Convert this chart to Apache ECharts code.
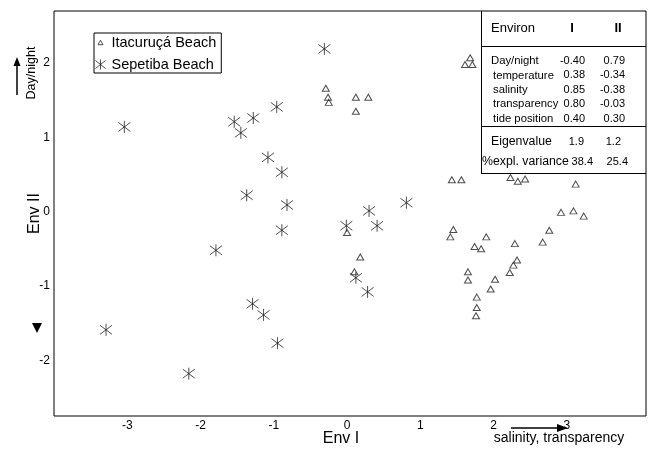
<!DOCTYPE html>
<html><head><meta charset="utf-8">
<script src="https://cdn.jsdelivr.net/npm/echarts@6/dist/echarts.min.js"></script>
<style>html,body{margin:0;padding:0;background:#fff}#c{width:651px;height:455px}</style>
</head><body><div id="c"></div>
<script>
// ---- data ----
const xTickValues = [-3, -2, -1, 0, 1, 2, 3];
const yTickValues = [-2, -1, 0, 1, 2];

const itaX = [-0.29, -0.26, -0.25, 0.12, 0.29, 0.12, 1.68, 1.61, 1.71,
  0.00, 0.18, 0.10,
  1.43, 1.56, 2.23, 2.33, 2.43, 3.12, 2.92, 3.09, 3.23, 2.76, 2.67,
  1.45, 1.41, 1.90, 1.74, 1.83, 2.29, 2.32, 2.27, 2.22, 1.65, 1.65, 2.02, 1.96,
  1.77, 1.77, 1.76];
const itaY = [1.66, 1.54, 1.47, 1.54, 1.54, 1.35, 2.07, 1.98, 1.98,
  -0.28, -0.61, -0.81,
  0.43, 0.43, 0.46, 0.41, 0.44, 0.37, -0.01, 0.01, -0.06, -0.25, -0.41,
  -0.24, -0.34, -0.34, -0.47, -0.50, -0.43, -0.65, -0.72, -0.82, -0.81, -0.92, -0.91, -1.04,
  -1.15, -1.29, -1.40];

const sepX = [-0.31, -3.04, -1.54, -1.28, -1.45, -0.96, -1.08, -0.89, -1.37, -0.82,
  -0.89, -1.79, -0.01, 0.30, 0.41, 0.81, 0.12, 0.28, -1.29, -1.14, -0.95, -3.29, -2.16];
const sepY = [2.19, 1.14, 1.21, 1.26, 1.06, 1.41, 0.73, 0.53, 0.22, 0.09,
  -0.25, -0.52, -0.19, 0.01, -0.19, 0.12, -0.89, -1.08, -1.24, -1.39, -1.77, -1.59, -2.18];

const seriesNames = ['Itacuruçá Beach', 'Sepetiba Beach'];

const tableHeader = ['Environ', 'I', 'II'];
const envNames = ['Day/night', 'temperature', 'salinity', 'transparency', 'tide position'];
const loadI = ['-0.40', '0.38', '0.85', '0.80', '0.40'];
const loadII = ['0.79', '-0.34', '-0.38', '-0.03', '0.30'];
const summaryNames = ['Eigenvalue', '%expl. variance'];
const summaryI = ['1.9', '38.4'];
const summaryII = ['1.2', '25.4'];

// ---- chart ----
const FONT = '"Liberation Sans", Arial, sans-serif';
const ink = '#222';
const asterisk = 'path://M6,0L6,12M0,1.5L12,10.5M0,10.5L12,1.5';
const legendTri = 'path://M0,0M12,14M3.5,9.2L6,4.8L8.5,9.2Z';
const legendAst = 'path://M0,0M12,14M6,2L6,12M1,3L11,11M1,11L11,3';

const ita = itaX.map((x, i) => [x, itaY[i]]);
const sep = sepX.map((x, i) => [x, sepY[i]]);

const graphics = [];
function txt(t, x, y, size, align, extra, weight) {
  graphics.push(Object.assign({
    type: 'text', x: x, y: y, silent: true,
    style: { text: t, fill: '#000', font: (weight ? weight + ' ' : '') + size + 'px ' + FONT, textAlign: align || 'left', textVerticalAlign: 'middle' }
  }, extra || {}));
}
function ln(x1, y1, x2, y2, w) {
  graphics.push({ type: 'line', silent: true, shape: { x1, y1, x2, y2 }, style: { stroke: '#000', lineWidth: w || 1 } });
}
function poly(pts) {
  graphics.push({ type: 'polygon', silent: true, shape: { points: pts }, style: { fill: '#000' } });
}

// table
const tL = 481, tR = 646;
ln(tL + 0.5, 11, tL + 0.5, 173);
ln(tL, 173.5, tR, 173.5);
ln(tL, 46.5, tR, 46.5);
ln(tL, 126.5, tR, 126.5);
txt(tableHeader[0], 491, 28, 13, 'left');
txt(tableHeader[1], 572, 28, 13, 'center', null, 'bold');
txt(tableHeader[2], 618, 28, 13, 'center', null, 'bold');
envNames.forEach((n, i) => {
  const y = 61 + i * 14.4;
  txt(n, i === 0 ? 491 : 493, y, 11.3, 'left');
  txt(loadI[i], 585, y, 11, 'right');
  txt(loadII[i], 625, y, 11, 'right');
});
summaryNames.forEach((n, i) => {
  const y = 142 + i * 20;
  txt(n, i === 0 ? 491 : 482, y, 12.3, 'left');
  txt(summaryI[i], i === 0 ? 584 : 593, y, 11, 'right');
  txt(summaryII[i], i === 0 ? 621 : 628, y, 11, 'right');
});

// axis decorations
txt('Day/night', 32, 73, 12.5, 'center', { rotation: Math.PI / 2 });
ln(17, 95, 17, 64, 1.5);
poly([[17, 57], [13.5, 66], [20.5, 66]]);
poly([[32, 323], [42, 323], [37, 333]]);
txt('salinity, transparency', 559, 438, 14, 'center');
ln(511, 428, 559, 428, 1.5);
poly([[568, 428], [557, 424], [557, 432]]);

const chart = echarts.init(document.getElementById('c'), null, { renderer: 'canvas' });
chart.setOption({
  animation: false,
  backgroundColor: '#fff',
  textStyle: { fontFamily: FONT },
  grid: { left: 54, right: 5, top: 11, bottom: 39, show: true, borderColor: '#000', borderWidth: 1 },
  xAxis: {
    type: 'value', min: -4, max: 4.08, interval: 1,
    axisLine: { show: false }, axisTick: { show: false }, splitLine: { show: false },
    axisLabel: { color: '#000', fontSize: 12, margin: 4,
      formatter: v => xTickValues.includes(Math.round(v)) && Math.abs(v - Math.round(v)) < 1e-6 ? String(Math.round(v)) : '' },
    name: 'Env I', nameLocation: 'middle', nameGap: 15, nameMoveOverlap: false,
    nameTextStyle: { fontSize: 16, color: '#000', padding: [0, 18, 0, 0] }
  },
  yAxis: {
    type: 'value', min: -2.75, max: 2.7, interval: 0.25,
    axisLine: { show: false }, axisTick: { show: false }, splitLine: { show: false },
    axisLabel: { color: '#000', fontSize: 12, margin: 4,
      formatter: v => yTickValues.includes(Math.round(v)) && Math.abs(v - Math.round(v)) < 1e-6 ? String(Math.round(v)) : '' },
    name: 'Env II', nameLocation: 'middle', nameGap: 11, nameMoveOverlap: false,
    nameTextStyle: { fontSize: 16, color: '#000' }
  },
  legend: {
    orient: 'vertical', left: 94, top: 33, selectedMode: false,
    padding: [2, 5, 1, 0], itemGap: 7, itemWidth: 12, itemHeight: 14,
    borderColor: '#000', borderWidth: 1, backgroundColor: '#fff',
    textStyle: { fontSize: 14.5, color: '#000' },
    data: [
      { name: seriesNames[0], icon: legendTri, itemStyle: { color: 'rgba(0,0,0,0)', borderColor: ink, borderWidth: 1 } },
      { name: seriesNames[1], icon: legendAst, itemStyle: { color: 'rgba(0,0,0,0)', borderColor: ink, borderWidth: 1 } }
    ]
  },
  series: [
    { type: 'scatter', name: seriesNames[0], data: ita, symbol: 'triangle', symbolSize: [7, 6],
      itemStyle: { color: 'rgba(0,0,0,0)', borderColor: ink, borderWidth: 1 }, z: 2 },
    { type: 'scatter', name: seriesNames[1], data: sep, symbol: asterisk, symbolSize: 12,
      itemStyle: { color: 'rgba(0,0,0,0)', borderColor: ink, borderWidth: 1 }, z: 3 }
  ],
  graphic: { elements: graphics }
});
</script></body></html>
